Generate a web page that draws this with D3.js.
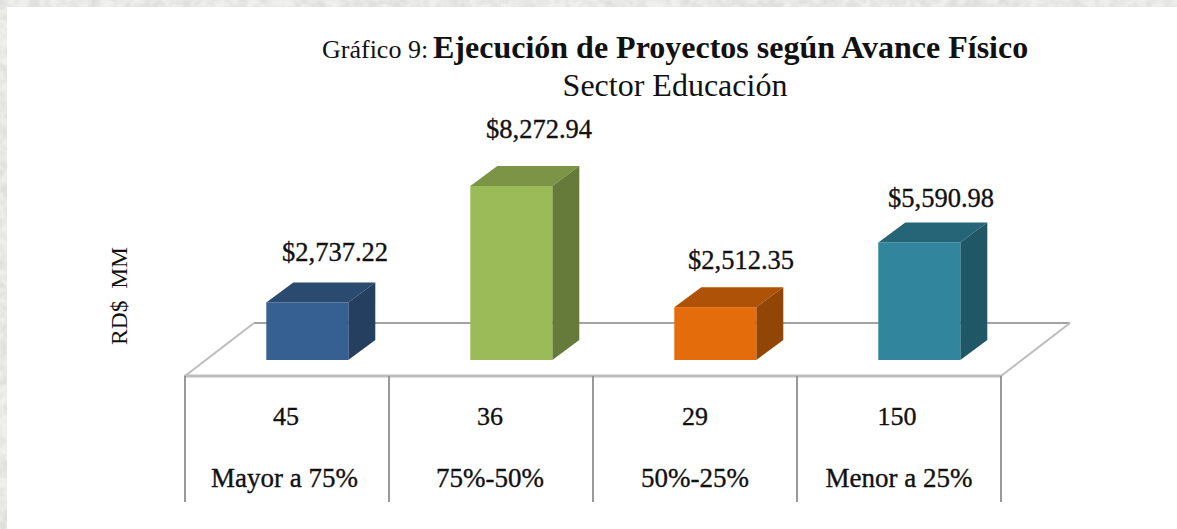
<!DOCTYPE html>
<html><head><meta charset="utf-8">
<script src="https://cdn.jsdelivr.net/npm/d3@7"></script>
<style>html,body{margin:0;padding:0;background:#fff;overflow:hidden}svg{display:block}text{font-family:"Liberation Serif",serif;fill:#111}</style>
</head><body><svg id="c" width="1177" height="529"></svg>
<script>
const categories = ["Mayor a 75%","75%-50%","50%-25%","Menor a 25%"];
const amounts = [2737.22,8272.94,2512.35,5590.98];
const amountLabels = ["$2,737.22","$8,272.94","$2,512.35","$5,590.98"];
const projectCounts = [45,36,29,150];
const frontColors = ["#376092","#9bbb59","#e46c0a","#31859c"];
const topColors = ["#2a4a70","#7b9445","#ad5207","#266577"];
const sideColors = ["#243f60","#667a3a","#924606","#205766"];
const labelShift = [[28,-41],[28,-48],[26,-38],[22,-35]];
const countShift = [-1,-1,0,-2];
const tableShift = [-2.5,-1,0,0];

const svg = d3.select("#c");
const defs = svg.append("defs");
const f = defs.append("filter").attr("id","tex").attr("x",0).attr("y",0).attr("width","100%").attr("height","100%");
f.append("feTurbulence").attr("type","fractalNoise").attr("baseFrequency","0.1").attr("numOctaves",3).attr("seed",4);
f.append("feColorMatrix").attr("values","0 0 0 0 0.74  0 0 0 0 0.74  0 0 0 0 0.72  2.4 0 0 0 -0.75");
svg.append("rect").attr("width",1177).attr("height",529).attr("fill","#efefed");
svg.append("rect").attr("width",1177).attr("height",529).attr("filter","url(#tex)");
svg.append("rect").attr("x",7).attr("y",7).attr("width",1170).attr("height",522).attr("fill","#fff");

const x = d3.scaleBand().domain(categories).range([185,1001]);
const y = d3.scaleLinear().domain([0,8272.94]).range([360,186]);
const barW = 82, dx = 27, dy = -20, barShift = 20.3;
const floorFront = y(0)+16, floorBack = floorFront-53, floorDx = 69, tableBottom = 502;

const grid = svg.append("g");
grid.append("line").attr("x1",x.range()[0]+floorDx).attr("x2",x.range()[1]+floorDx).attr("y1",floorBack).attr("y2",floorBack).attr("stroke","#a3a3a3").attr("stroke-width",1.8);
[x.range()[0],x.range()[1]].forEach(v=>grid.append("line").attr("x1",v).attr("x2",v+floorDx).attr("y1",floorFront).attr("y2",floorBack).attr("stroke","#bdbdbd").attr("stroke-width",2));
grid.append("line").attr("x1",x.range()[0]-1).attr("x2",x.range()[1]+1).attr("y1",floorFront).attr("y2",floorFront).attr("stroke","#bebebe").attr("stroke-width",3);
const edges = categories.map(c=>x(c)).concat(x.range()[1]);
grid.selectAll("line.v").data(edges).join("line").attr("class","v").attr("x1",d=>d).attr("x2",d=>d).attr("y1",floorFront).attr("y2",tableBottom).attr("stroke","#8e8e8e").attr("stroke-width",1.8);

const bars = svg.append("g").selectAll("g").data(categories).join("g");
const L = c => x(c)+x.bandwidth()/2+barShift-barW/2;
const pts = a => a.map(p=>p.join(",")).join(" ");
bars.append("polygon").attr("fill",(c,i)=>topColors[i]).attr("points",(c,i)=>{const t=y(amounts[i]),l=L(c);return pts([[l,t],[l+barW,t],[l+barW+dx,t+dy],[l+dx,t+dy]]);});
bars.append("polygon").attr("fill",(c,i)=>sideColors[i]).attr("points",(c,i)=>{const t=y(amounts[i]),l=L(c)+barW,b=y(0);return pts([[l,t],[l+dx,t+dy],[l+dx,b+dy],[l,b]]);});
bars.append("rect").attr("x",L).attr("width",barW).attr("y",(c,i)=>y(amounts[i])).attr("height",(c,i)=>y(0)-y(amounts[i])).attr("fill",(c,i)=>frontColors[i]);

svg.append("g").selectAll("text").data(amountLabels).join("text").attr("text-anchor","middle").attr("font-size",26.5)
 .attr("stroke","#111").attr("stroke-width",0.35)
 .attr("x",(d,i)=>x(categories[i])+x.bandwidth()/2+20+labelShift[i][0]).attr("y",(d,i)=>y(amounts[i])+labelShift[i][1]).text(d=>d);
svg.append("g").selectAll("text").data(projectCounts).join("text").attr("text-anchor","middle").attr("font-size",26).attr("stroke","#111").attr("stroke-width",0.35)
 .attr("x",(d,i)=>x(categories[i])+x.bandwidth()/2+countShift[i]).attr("y",425).text(d=>d);
svg.append("g").selectAll("text").data(categories).join("text").attr("text-anchor","middle").attr("font-size",27).attr("stroke","#111").attr("stroke-width",0.35)
 .attr("x",(c,i)=>x(c)+x.bandwidth()/2+tableShift[i]).attr("y",487).text(c=>c);

svg.append("text").attr("x",322).attr("y",58).attr("font-size",26).attr("fill","#333").text("Gráfico 9:");
svg.append("text").attr("x",433).attr("y",58).attr("font-size",32).attr("font-weight",700).text("Ejecución de Proyectos según Avance Físico");
svg.append("text").attr("x",675).attr("y",96).attr("text-anchor","middle").attr("font-size",32).attr("fill","#333").text("Sector Educación");
svg.append("text").attr("transform","translate(127,345) rotate(-90)").attr("font-size",23.5).attr("fill","#111").attr("xml:space","preserve").style("white-space","pre").text("RD$  MM");
</script></body></html>
